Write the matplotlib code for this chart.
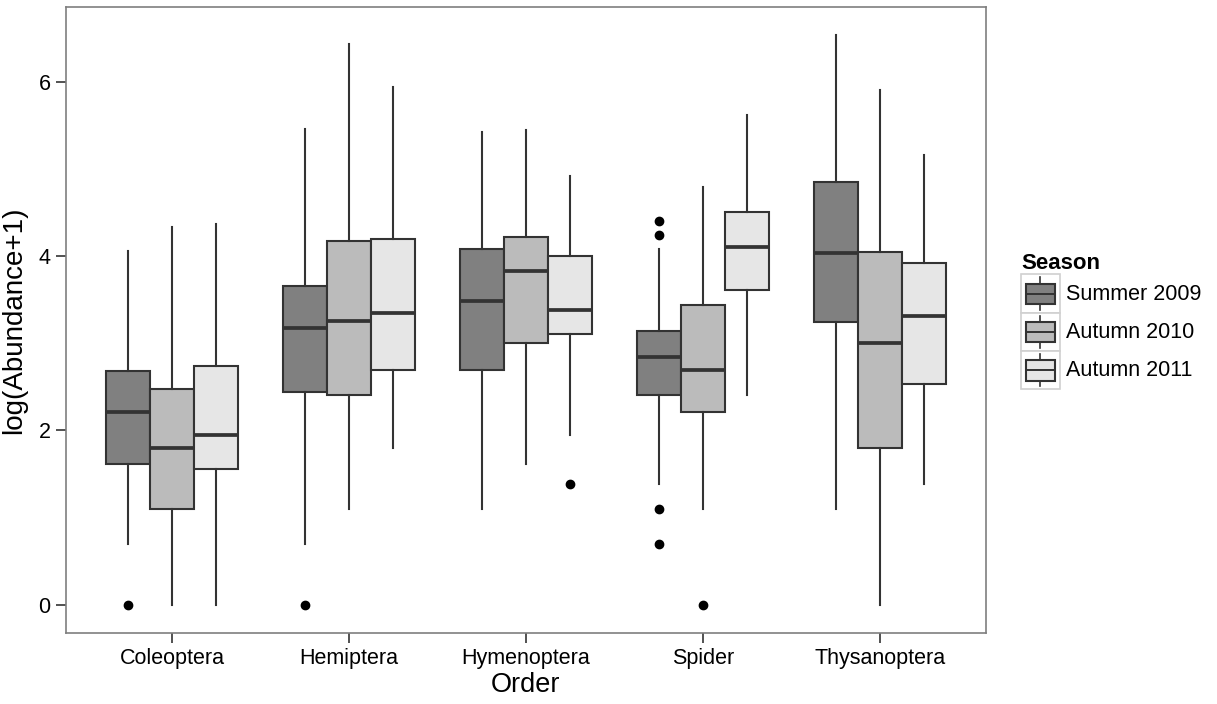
import matplotlib
matplotlib.use('Agg')
import matplotlib.pyplot as plt
from matplotlib.legend_handler import HandlerBase
from matplotlib.patches import Rectangle, Patch
from matplotlib.lines import Line2D
import numpy as np

plt.rcParams['font.family'] = ['Liberation Sans', 'DejaVu Sans']

orders = ['Coleoptera', 'Hemiptera', 'Hymenoptera', 'Spider', 'Thysanoptera']
seasons = ['Summer 2009', 'Autumn 2010', 'Autumn 2011']
fills = ['#808080', '#bbbbbb', '#e6e6e6']

# five-number summaries per season, one value per order
whislo = {
    'Summer 2009': [0.70, 0.70, 1.10, 1.39, 1.10],
    'Autumn 2010': [0.00, 1.10, 1.62, 1.10, 0.00],
    'Autumn 2011': [0.00, 1.80, 1.95, 2.41, 1.39],
}
q1 = {
    'Summer 2009': [1.61, 2.44, 2.70, 2.41, 3.25],
    'Autumn 2010': [1.10, 2.41, 3.00, 2.21, 1.80],
    'Autumn 2011': [1.56, 2.70, 3.11, 3.61, 2.53],
}
med = {
    'Summer 2009': [2.21, 3.18, 3.49, 2.84, 4.04],
    'Autumn 2010': [1.80, 3.26, 3.83, 2.70, 3.00],
    'Autumn 2011': [1.95, 3.35, 3.39, 4.11, 3.31],
}
q3 = {
    'Summer 2009': [2.68, 3.66, 4.09, 3.14, 4.86],
    'Autumn 2010': [2.48, 4.18, 4.22, 3.44, 4.05],
    'Autumn 2011': [2.74, 4.20, 4.01, 4.51, 3.93],
}
whishi = {
    'Summer 2009': [4.06, 5.47, 5.43, 4.08, 6.54],
    'Autumn 2010': [4.34, 6.44, 5.45, 4.80, 5.91],
    'Autumn 2011': [4.37, 5.95, 4.92, 5.63, 5.17],
}
fliers = {
    'Summer 2009': [[0.0], [0.0], [], [4.41, 4.25, 1.10, 0.69], []],
    'Autumn 2010': [[], [], [], [0.0], []],
    'Autumn 2011': [[], [], [1.39], [], []],
}

edge = '#333333'
fig = plt.figure(figsize=(12.17, 7.04), dpi=100)
ax = fig.add_axes([0.0542, 0.1009, 0.7560, 0.8892])

width = 0.25
x = np.arange(1, len(orders) + 1)
for i, s in enumerate(seasons):
    stats = []
    for j in range(len(orders)):
        stats.append(dict(whislo=whislo[s][j], q1=q1[s][j], med=med[s][j],
                          q3=q3[s][j], whishi=whishi[s][j], fliers=fliers[s][j]))
    pos = x + (i - 1) * width
    ax.bxp(stats, positions=pos, widths=width, patch_artist=True, showcaps=False,
           boxprops=dict(facecolor=fills[i], edgecolor=edge, linewidth=1.5),
           medianprops=dict(color=edge, linewidth=2.7),
           whiskerprops=dict(color=edge, linewidth=1.5),
           flierprops=dict(marker='o', markerfacecolor='black', markeredgecolor='black',
                           markersize=6))

ax.set_xlim(0.4, 5.6)
ax.set_ylim(-0.327, 6.867)
ax.set_xticks(x)
ax.set_xticklabels(orders)
ax.set_yticks([0, 2, 4, 6])
ax.tick_params(axis='both', which='both', length=7, width=1.2, color=edge,
               labelsize=15.5, labelcolor='black', pad=4)
for sp in ax.spines.values():
    sp.set_color('#7f7f7f')
    sp.set_linewidth(1.2)
ax.set_xlabel('Order', fontsize=19.5, labelpad=2)
ax.set_ylabel('log(Abundance+1)', fontsize=20, labelpad=8)


class BoxKey(HandlerBase):
    # mini boxplot glyph inside a light framed key
    def create_artists(self, legend, orig_handle, xdescent, ydescent, width, height,
                       fontsize, trans):
        x0, y0 = -xdescent, -ydescent
        frame = Rectangle((x0, y0), width, height, facecolor='white',
                          edgecolor='#d0d0d0', linewidth=1.2, transform=trans)
        bx = Rectangle((x0 + 0.13 * width, y0 + 0.22 * height), 0.74 * width,
                       0.54 * height, facecolor=orig_handle.get_facecolor(),
                       edgecolor=edge, linewidth=1.5, transform=trans)
        cx = x0 + width / 2
        w1 = Line2D([cx, cx], [y0 + 0.76 * height, y0 + 0.92 * height], color=edge,
                    linewidth=1.2, transform=trans)
        w2 = Line2D([cx, cx], [y0 + 0.08 * height, y0 + 0.22 * height], color=edge,
                    linewidth=1.2, transform=trans)
        m = Line2D([x0 + 0.13 * width, x0 + 0.87 * width], [y0 + 0.49 * height] * 2,
                   color=edge, linewidth=1.4, transform=trans)
        return [frame, bx, w1, w2, m]


handles = [Patch(facecolor=c) for c in fills]
leg = fig.legend(handles, seasons, handler_map={Patch: BoxKey()},
                 loc='upper left', bbox_to_anchor=(0.839, 0.64),
                 frameon=False, fontsize=15.5, title='Season',
                 title_fontproperties={'weight': 'bold', 'size': 16},
                 handlelength=1.8, handleheight=2.35, labelspacing=0.0,
                 handletextpad=0.3, borderaxespad=0, borderpad=0)
leg._legend_box.align = 'left'

fig.savefig('out.png', dpi=100)
